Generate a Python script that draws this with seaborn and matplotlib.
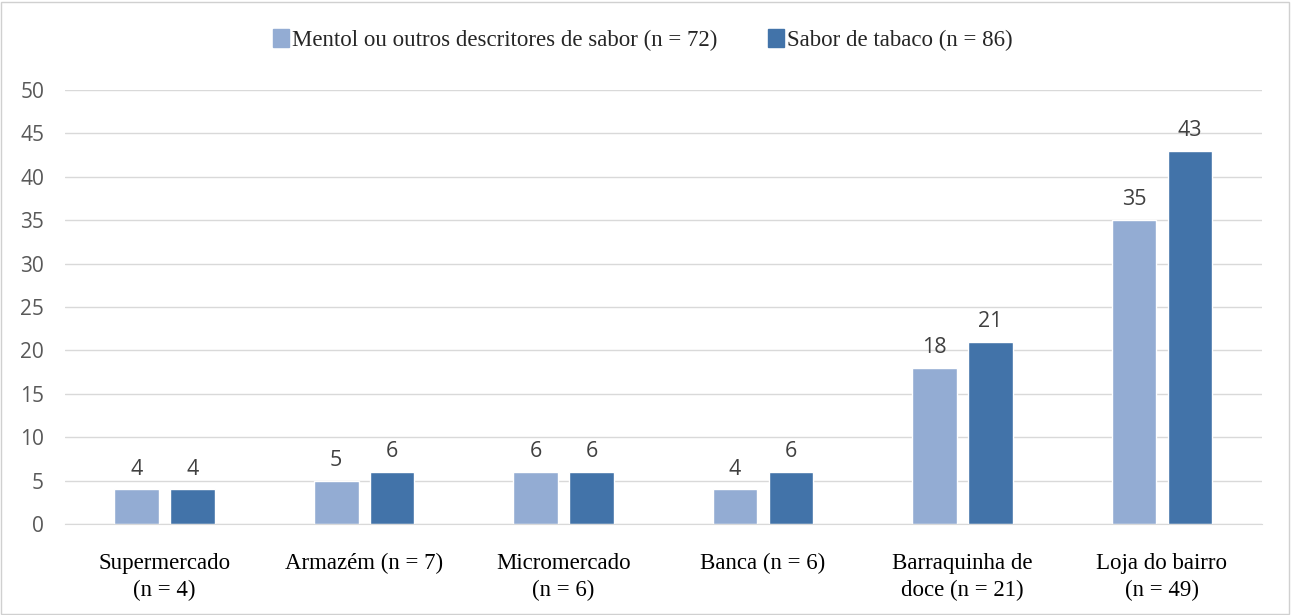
import pandas as pd
import seaborn as sns
import matplotlib.pyplot as plt
from matplotlib.patches import Rectangle

categorias = ["Supermercado\n(n = 4)", "Armazém (n = 7)", "Micromercado\n(n = 6)",
              "Banca (n = 6)", "Barraquinha de\ndoce (n = 21)", "Loja do bairro\n(n = 49)"]
series = ["Mentol ou outros descritores de sabor (n = 72)", "Sabor de tabaco (n = 86)"]
mentol = [4, 5, 6, 4, 18, 35]
tabaco = [4, 6, 6, 6, 21, 43]
cores = ["#93acd3", "#4273a9"]

df = pd.DataFrame({
    "categoria": categorias * 2,
    "serie": [series[0]] * len(categorias) + [series[1]] * len(categorias),
    "valor": mentol + tabaco,
})

sns.set_style("white")
serif = ["Liberation Serif", "DejaVu Serif"]
sans = ["Open Sans", "DejaVu Sans"]

fig = plt.figure(figsize=(12.91, 6.15), dpi=100)
ax = fig.add_axes([0.0503, 0.148, 0.927, 0.7057])

sns.barplot(data=df, x="categoria", y="valor", hue="serie", order=categorias,
            hue_order=series, palette=cores, width=0.56, gap=0.2,
            saturation=1, ax=ax, legend=False)

# rótulos de valor
for cont in ax.containers:
    ax.bar_label(cont, labels=[f"{v:.0f}" for v in cont.datavalues], padding=7,
                 fontsize=15.5, color="#404040", family=sans)

ax.set_ylim(0, 50)
ax.set_yticks(range(0, 51, 5))
ax.set_xlim(-0.5, len(categorias) - 0.5)
ax.yaxis.grid(True, color="#d9d9d9", linewidth=1)
ax.set_axisbelow(True)
for s in ["left", "top", "right"]:
    ax.spines[s].set_visible(False)
ax.spines["bottom"].set_color("#d9d9d9")
ax.tick_params(axis="both", length=0)
ax.tick_params(axis="y", pad=15, labelsize=15, labelcolor="#595959")
ax.tick_params(axis="x", pad=21, labelsize=16.5, labelcolor="#000000")
for lab in ax.get_yticklabels():
    lab.set_family(sans)
for lab in ax.get_xticklabels():
    lab.set_family(serif)
    lab.set_linespacing(1.35)
ax.set_xlabel("")
ax.set_ylabel("")

# legenda
handles = [Rectangle((0, 0), 1, 1, color=c) for c in cores]
fig.legend(handles, series, loc="center", bbox_to_anchor=(0.498, 0.935), ncol=2,
           frameon=False, prop={"family": serif, "size": 16.5}, handlelength=0.7,
           handleheight=0.8, handletextpad=0.15, columnspacing=2.2)

# moldura
fig.patches.append(Rectangle((0.0008, 0.0015), 0.998, 0.996, transform=fig.transFigure,
                             fill=False, edgecolor="#d0d0d0", linewidth=1))

fig.savefig("out.png", dpi=100)
